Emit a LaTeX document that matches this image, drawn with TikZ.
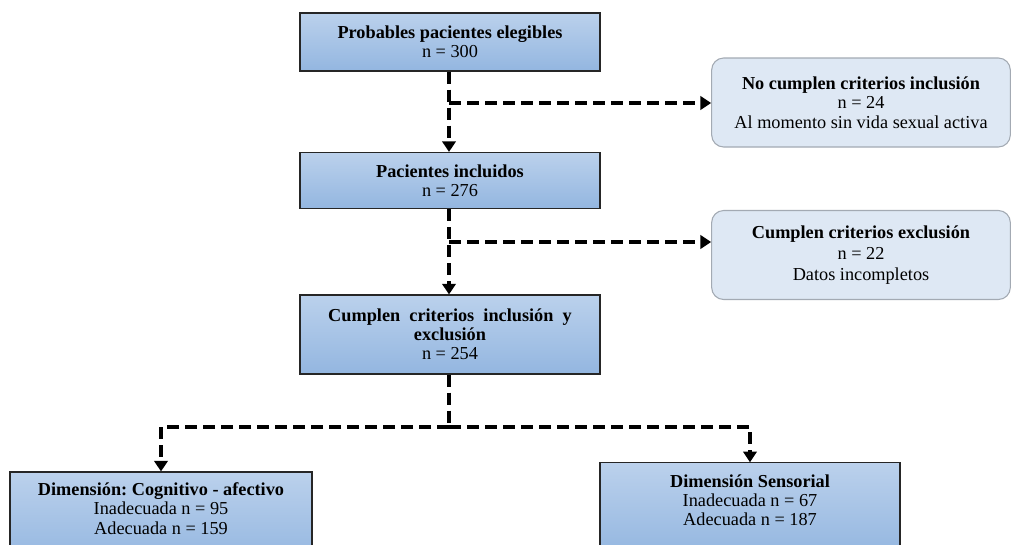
\documentclass[tikz,border=0pt]{standalone}
\usepackage{fontspec}
\setmainfont{Liberation Serif}
\usetikzlibrary{arrows.meta,calc}
\definecolor{boxtop}{HTML}{BBD1EC}
\definecolor{boxbot}{HTML}{93B6E0}
\definecolor{sidefill}{HTML}{DEE8F4}
\definecolor{sidedraw}{HTML}{A3AAB3}
\tikzset{
  mainbox/.style={draw=black!85, line width=0.8pt, top color=boxtop, bottom color=boxbot,
    align=center, font=\fontsize{13.7}{14.4}\selectfont, inner sep=2pt,
    minimum width=225pt},
  sidebox/.style={draw=sidedraw, line width=0.8pt, fill=sidefill, rounded corners=9pt,
    align=center, font=\fontsize{13.7}{14.6}\selectfont, inner sep=2pt,
    minimum width=224pt},
  conn/.style={line width=3pt, dash pattern=on 9pt off 4.5pt,
    -{Triangle[width=10pt,length=8pt]}},
  connline/.style={line width=3pt, dash pattern=on 9pt off 4.5pt}
}
\begin{document}
\begin{tikzpicture}[x=0.75pt,y=-0.75pt]
\clip (0,0) rectangle (1017,544);
\useasboundingbox (0,0) rectangle (1017,544);
\node[mainbox, minimum height=43.5pt] (b1) at (450,42) {\textbf{Probables pacientes elegibles}\\ n = 300};
\node[mainbox, minimum height=42pt] (b2) at (450,180.5) {\textbf{Pacientes incluidos}\\ n = 276};
\node[mainbox, minimum height=59.25pt] (b3) at (450,334.5) {\textbf{Cumplen\ \ criterios\ \ inclusión\ \ y}\\ \textbf{exclusión}\\ n = 254};
\node[sidebox, minimum height=66.75pt] (s1) at (861,102.5) {\textbf{No cumplen criterios inclusión}\\ n = 24\\ Al momento sin vida sexual activa};
\node[sidebox, minimum height=66.75pt, font=\fontsize{13.7}{15.8}\selectfont] (s2) at (861,255) {\textbf{Cumplen\ criterios\ exclusión}\\ n = 22\\ Datos incompletos};
\node[mainbox, minimum width=226.5pt, minimum height=69pt] (d1) at (161,518) {\textbf{Dimensión:\ Cognitivo - afectivo}\\ Inadecuada\ n = 95\\ Adecuada\ n = 159\\ \mbox{}};
\node[mainbox, minimum width=225pt, minimum height=70pt] (d2) at (750,509.5) {\textbf{Dimensión\ Sensorial}\\ Inadecuada\ n = 67\\ Adecuada\ n = 187\\ \mbox{}};
\coordinate (j1) at (449,103);
\coordinate (j2) at (449,242);
\coordinate (j3) at (449,427);
\draw[conn] (b1.south -| j1) -- (b2.north -| j1);
\draw[conn] (j1) -- (j1 -| s1.west);
\draw[conn] (b2.south -| j2) -- (b3.north -| j2);
\draw[conn] (j2) -- (j2 -| s2.west);
\draw[connline] (b3.south -| j3) -- (j3);
\draw[conn] (j3) -| (d1.north);
\draw[conn] (j3) -| (d2.north);
\end{tikzpicture}
\end{document}
